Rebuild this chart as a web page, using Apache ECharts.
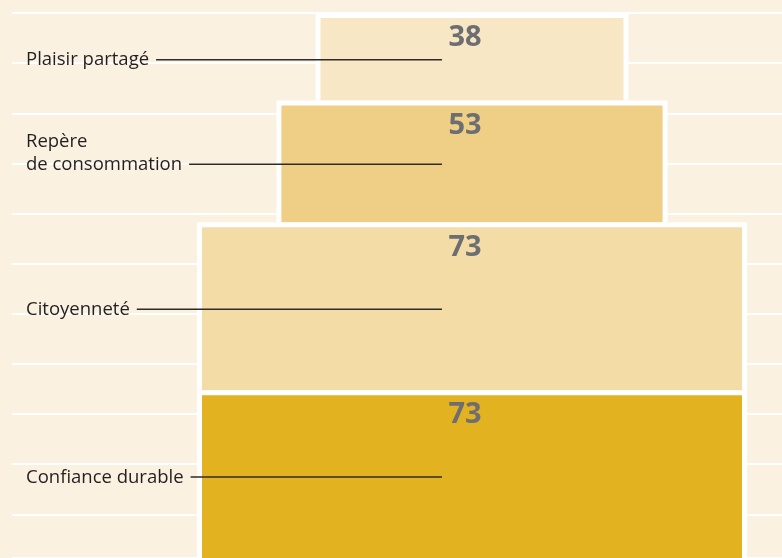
<!DOCTYPE html>
<html>
<head>
<meta charset="utf-8">
<script src="https://cdn.jsdelivr.net/npm/echarts@6/dist/echarts.min.js"></script>
<style>
  html, body { margin: 0; padding: 0; background: #FAF1E0; }
  #chart { width: 782px; height: 558px; }
</style>
</head>
<body>
<div id="chart"></div>
<script>
// ---- data ----
const categories = ['Plaisir partagé', 'Repère\nde consommation', 'Citoyenneté', 'Confiance durable'];
const values = [38, 53, 73, 73];
// relative block widths (widest block = 100)
const widths = [56.1, 70.6, 100, 100];
const fills = ['#F8E7C4', '#EFCF86', '#F4DCA6', '#E3B220'];

const LABEL_FONT = '18.5px "Open Sans", sans-serif';
const NUM_FONT = 'bold 29px "Open Sans", sans-serif';

const measureCtx = document.createElement('canvas').getContext('2d');
function textWidth(str, font) {
  measureCtx.font = font;
  return measureCtx.measureText(str).width;
}

const total = values.reduce((a, b) => a + b, 0);
const seriesData = [];
let cum = 0;
values.forEach((v, i) => {
  seriesData.push([i, cum, v, widths[i]]);
  cum += v;
});

function renderItem(params, api) {
  const i = api.value(0);
  const start = api.value(1);
  const v = api.value(2);
  const w = api.value(3);
  const y0 = api.coord([0, start])[1];
  const y1 = api.coord([0, start + v])[1];
  const xl = api.coord([-w / 2, 0])[0];
  const xr = api.coord([w / 2, 0])[0];
  const cx = (xl + xr) / 2;
  const B = 5;
  const fillTop = y0 + B;
  const leaderY = (fillTop + y1) / 2 + 0.5;
  const lines = categories[i].split('\n');
  const lastLine = lines[lines.length - 1];
  const labelX = 26;
  const lineStart = labelX + textWidth(lastLine, LABEL_FONT) + 7;
  const lineEnd = cx - 30;
  return {
    type: 'group',
    children: [
      { type: 'rect', shape: { x: xl - B, y: y0, width: xr - xl + 2 * B, height: y1 - y0 },
        style: { fill: '#FFFFFF' } },
      { type: 'rect', shape: { x: xl, y: fillTop, width: xr - xl, height: y1 - fillTop },
        style: { fill: fills[i] } },
      { type: 'text', x: cx - 7, y: fillTop + 20,
        style: { text: String(values[i]), font: NUM_FONT, fill: '#6D6E71',
                 align: 'center', verticalAlign: 'middle' } },
      { type: 'line', shape: { x1: lineStart, y1: leaderY, x2: lineEnd, y2: leaderY },
        style: { stroke: '#2E2B29', lineWidth: 1.5 } },
      { type: 'text', x: labelX, y: leaderY + 12,
        style: { text: categories[i], font: LABEL_FONT, fill: '#231F20', lineHeight: 23,
                 align: 'left', verticalAlign: 'bottom' } }
    ]
  };
}

const chart = echarts.init(document.getElementById('chart'), null, { renderer: 'canvas' });
chart.setOption({
  backgroundColor: '#FAF1E0',
  animation: false,
  grid: [
    { left: 202, right: 40, top: 13, bottom: 0 },
    { left: 12, right: 0, top: 13, bottom: 0 }
  ],
  xAxis: [
    { gridIndex: 0, type: 'value', min: -50, max: 50, show: false },
    { gridIndex: 1, type: 'value', min: 0, max: 1, show: false }
  ],
  yAxis: [
    { gridIndex: 0, type: 'value', min: 0, max: total, inverse: true, show: false },
    { gridIndex: 1, type: 'value', min: 0, max: total, interval: 21.8, inverse: true,
      axisLine: { show: false }, axisTick: { show: false }, axisLabel: { show: false },
      splitLine: { show: true, lineStyle: { color: '#FFFFFF', width: 2 } } }
  ],
  series: [{
    type: 'custom',
    xAxisIndex: 0,
    yAxisIndex: 0,
    clip: false,
    renderItem: renderItem,
    data: seriesData,
    z: 10
  }]
});
</script>
</body>
</html>
